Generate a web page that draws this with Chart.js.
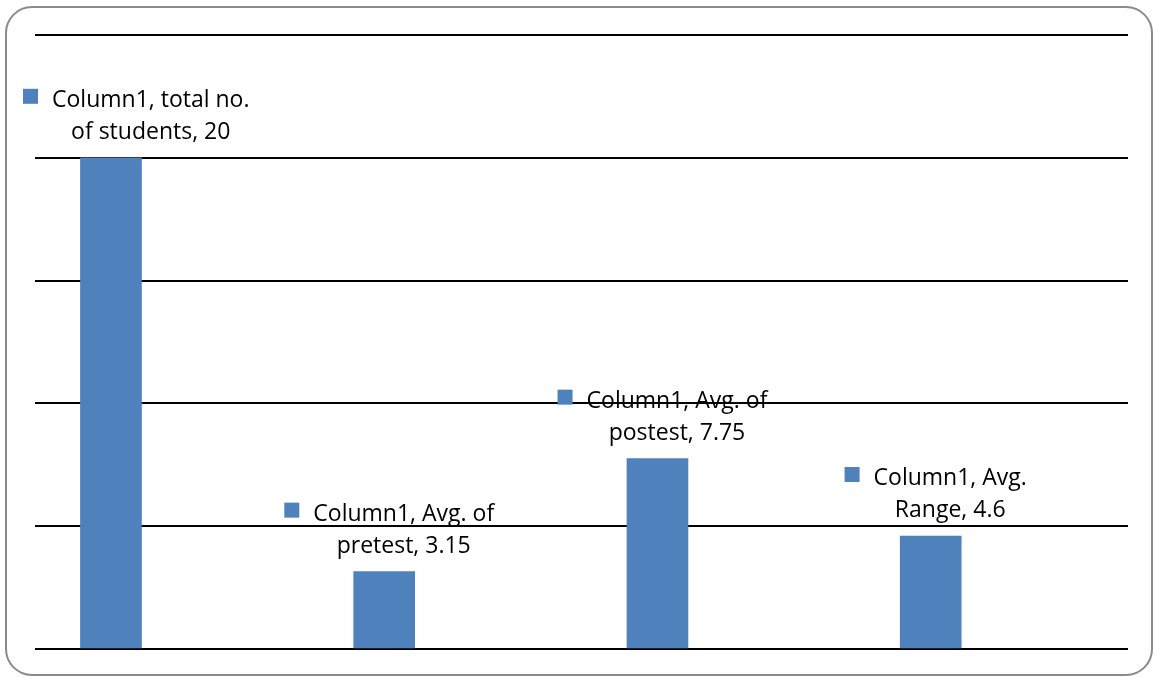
<!DOCTYPE html>
<html>
<head>
<meta charset="utf-8">
<script src="https://cdn.jsdelivr.net/npm/chart.js@4"></script>
<style>
  html, body { margin: 0; padding: 0; background: #fff; }
  #wrap { width: 1153px; height: 677px; }
</style>
</head>
<body>
<div id="wrap"><canvas id="c" width="1153" height="677"></canvas></div>
<script>
// Series and category data
const seriesName = 'Column1';
const categories = ['total no. of students', 'Avg. of pretest', 'Avg. of postest', 'Avg. Range'];
const values = [20, 3.15, 7.75, 4.6];
const yMax = 25;
const yStep = 5;

const barColor = '#4F81BD';
const labelFont = '23px "Open Sans"';

// Rounded frame around the whole chart
const framePlugin = {
  id: 'frame',
  beforeDraw(chart) {
    const ctx = chart.ctx;
    ctx.save();
    ctx.fillStyle = '#fff';
    ctx.fillRect(0, 0, chart.width, chart.height);
    ctx.beginPath();
    ctx.roundRect(6, 7, chart.width - 7, chart.height - 9, 26);
    ctx.strokeStyle = '#8a8a8a';
    ctx.lineWidth = 2;
    ctx.stroke();
    ctx.restore();
  }
};

// Wrap a label into lines no wider than maxW
function wrapText(ctx, text, maxW) {
  const words = text.split(' ');
  const lines = [];
  let cur = '';
  for (const w of words) {
    const test = cur ? cur + ' ' + w : w;
    if (cur && ctx.measureText(test).width > maxW) {
      lines.push(cur);
      cur = w;
    } else {
      cur = test;
    }
  }
  if (cur) lines.push(cur);
  return lines;
}

// Data labels: square marker + "series, category, value" above each bar
const barLabelPlugin = {
  id: 'barLabels',
  afterDatasetsDraw(chart) {
    const ctx = chart.ctx;
    const meta = chart.getDatasetMeta(0);
    const area = chart.chartArea;
    ctx.save();
    ctx.font = labelFont;
    ctx.textBaseline = 'alphabetic';
    ctx.textAlign = 'center';
    meta.data.forEach((bar, i) => {
      const text = seriesName + ', ' + categories[i] + ', ' + values[i];
      const lines = wrapText(ctx, text, 205);
      const textW = Math.max(...lines.map(l => ctx.measureText(l).width));
      const marker = 15, gap = 14;
      const blockW = marker + gap + textW;
      let left = bar.x + 5 - blockW / 2;
      left = Math.max(left, area.left - 12);
      const textCx = left + marker + gap + textW / 2;
      const lineH = 32;
      const lastBase = bar.y - 19;
      const firstBase = lastBase - lineH * (lines.length - 1);
      ctx.fillStyle = barColor;
      ctx.fillRect(left, firstBase - 18, marker, marker);
      ctx.fillStyle = '#000';
      lines.forEach((l, k) => ctx.fillText(l, textCx, firstBase + k * lineH));
    });
    ctx.restore();
  }
};

const xMin = -0.278;

new Chart(document.getElementById('c'), {
  type: 'bar',
  data: {
    datasets: [{
      label: seriesName,
      data: values.map((v, i) => ({ x: i, y: v })),
      backgroundColor: barColor,
      borderWidth: 0,
      barThickness: 61
    }]
  },
  options: {
    responsive: false,
    animation: false,
    layout: { padding: { left: 35, right: 25, top: 35, bottom: 28 } },
    plugins: { legend: { display: false }, tooltip: { enabled: false } },
    scales: {
      x: {
        type: 'linear',
        offset: false,
        min: xMin,
        max: xMin + categories.length,
        display: false
      },
      y: {
        min: 0,
        max: yMax,
        ticks: { stepSize: yStep, display: false },
        grid: { color: '#000', lineWidth: 2, drawTicks: false },
        border: { display: false },
        afterFit(scale) { scale.width = 0; }
      }
    }
  },
  plugins: [framePlugin, barLabelPlugin]
});
</script>
</body>
</html>
